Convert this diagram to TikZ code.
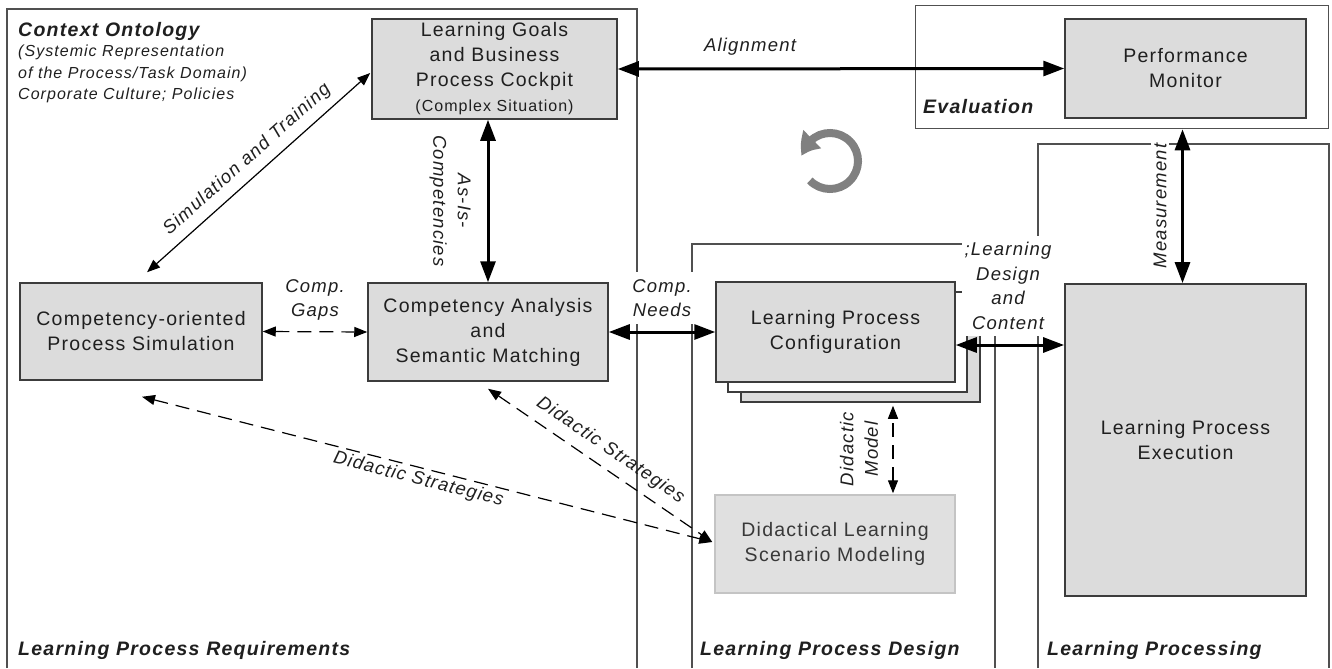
\documentclass[tikz,border=0pt]{standalone}
\usepackage{fontspec}
\setmainfont{Liberation Sans}[LetterSpace=6.5]
\usetikzlibrary{arrows.meta,calc,bending}

\definecolor{boxfill}{HTML}{DCDCDC}
\definecolor{boxline}{HTML}{3C3C3C}
\definecolor{frameline}{HTML}{505050}
\definecolor{softfill}{HTML}{E0E0E0}
\definecolor{softline}{HTML}{C4C4C4}
\definecolor{cyclegray}{HTML}{808080}

\begin{document}
\begin{tikzpicture}[x=1bp, y=-1bp,
  frame/.style={draw=frameline, line width=1.3bp},
  box/.style={draw=boxline, fill=boxfill, line width=1.5bp, align=center, inner sep=0pt,
    text=black!88, font=\fontsize{19.5bp}{25bp}\selectfont},
  lab/.style={font=\fontsize{18.5bp}{24.5bp}\selectfont\itshape, align=center, inner sep=3bp, text=black!88},
  paneltitle/.style={font=\fontsize{19.5bp}{24bp}\selectfont\bfseries\itshape, inner sep=0pt,
    anchor=base west, text=black!88},
  bigtip/.tip={Triangle[length=21bp,width=15bp]},
  smalltip/.tip={Triangle[length=13bp,width=10bp]},
  heavylink/.style={line width=3bp, bigtip-bigtip},
  lightlink/.style={line width=1.2bp, smalltip-smalltip},
  dashlink/.style={lightlink, dash pattern=on 14bp off 8bp},
]
\useasboundingbox (0,0) rectangle (1332,668);

% panels
\draw[frame] (7,668) -- (7,9) -- (637,9) -- (637,668);
\draw[frame] (692,668) -- (692,244) -- (995,244) -- (995,668);
\draw[frame] (1038,668) -- (1038,144) -- (1329,144) -- (1329,668);
\node[frame, anchor=north west, minimum width=413bp, minimum height=123bp, inner sep=0pt] (evalframe) at (915,5) {};

% panel titles
\node[paneltitle] (ctx) at (18,37) {Context Ontology};
\node[font=\fontsize{16bp}{21.5bp}\selectfont\itshape, align=left, inner sep=0pt, anchor=north west, text=black!88]
  (ctxsub) at (18,45) {(Systemic Representation\\of the Process/Task Domain)\\Corporate Culture; Policies};
\node[paneltitle] (reqtitle) at (18,655) {Learning Process Requirements};
\node[paneltitle] (destitle) at (700,655) {Learning Process Design};
\node[paneltitle] (proctitle) at (1047,655) {Learning Processing};
\node[paneltitle] (evaltitle) at (923,114) {Evaluation};

% process boxes
\node[box, minimum width=245bp, minimum height=100bp] (goals) at (494.5,69)
  {Learning Goals\\and Business\\Process Cockpit\\{\fontsize{16bp}{24bp}\selectfont (Complex Situation)}};
\node[box, minimum width=241bp, minimum height=99bp] (perf) at (1185.5,68.5) {Performance\\Monitor};
\node[box, minimum width=242bp, minimum height=97bp] (sim) at (141,331.5) {Competency-oriented\\Process Simulation};
\node[box, minimum width=240bp, minimum height=98bp] (analysis) at (488,332) {Competency Analysis\\and\\Semantic Matching};
\node[box, minimum width=239bp, minimum height=100bp] (config3) at (860.5,352) {};
\node[box, fill=white, minimum width=239bp, minimum height=100bp] (config2) at (847.5,342) {};
\node[box, minimum width=239bp, minimum height=100bp] (config) at (835.5,332) {Learning Process\\Configuration};
\node[box, line width=1.8bp, minimum width=241bp, minimum height=312bp] (exec) at (1185.5,440) {Learning Process\\Execution};
\node[box, draw=softline, fill=softfill, text=black!78, minimum width=240bp, minimum height=98bp] (didact) at (835,544)
  {Didactical Learning\\Scenario Modeling};

% cycle symbol
\coordinate (turn) at (830,161);
\draw[cyclegray, line width=8bp, -{Triangle[bend,length=20bp,width=24bp]}]
  ($(turn)+(136:28)$) arc[start angle=136, end angle=-170, radius=28];

% labels that interrupt the panel lines
\node[lab, fill=white, inner xsep=3bp, inner ysep=7bp] (needs) at (662,298) {Comp.\\Needs};
\node[lab, fill=white, inner xsep=3bp, inner ysep=6bp] (ldc) at (1008,286) {;Learning\\Design\\and\\Content};
\node[lab, fill=white, rotate=90] (meas) at (1160,206) {Measurement};

% other labels
\node[lab] (gaps) at (315,300) {Comp.\\Gaps};
\node[lab, rotate=-90] (asis) at (450,201) {As-Is-\\Competencies};
\node[lab, rotate=90] (dmodel) at (859,449) {Didactic\\Model};
\node[lab, anchor=base] (alignlab) at (750,52) {Alignment};

% connectors
\draw[heavylink] (goals.east) -- (perf.west);
\draw[heavylink] (analysis.north |- goals.south) -- (analysis.north);
\draw[lightlink] ($(sim.north)+(6,-10)$) -- node[lab, sloped, above, inner sep=8bp] {Simulation and Training} ($(goals.west)+(-1,4)$);
\draw[dashlink] (sim.east) -- (analysis.west);
\draw[heavylink] (analysis.east) -- (config.west);
\draw[heavylink] ($(config.east)+(0,13)$) -- ($(exec.west |- config.east)+(0,13)$);
\draw[heavylink] ($(exec.north)+(-3,0)$) -- ($(exec.north |- evalframe.south)+(-3,0)$);
\coordinate (ds) at ($(didact.west)+(-2,-2)$);
\draw[dashlink] ($(analysis.south)+(0,7)$) -- node[lab, sloped, above, inner sep=9bp] {Didactic Strategies} (ds);
\draw[dashlink] ($(sim.south)+(1,16)$) -- node[lab, sloped, below, pos=0.49] {Didactic Strategies} (ds);
\draw[dashlink] ($(didact.north)+(58,-1)$) -- ($(didact.north |- config3.south)+(58,3)$);
\end{tikzpicture}
\end{document}
